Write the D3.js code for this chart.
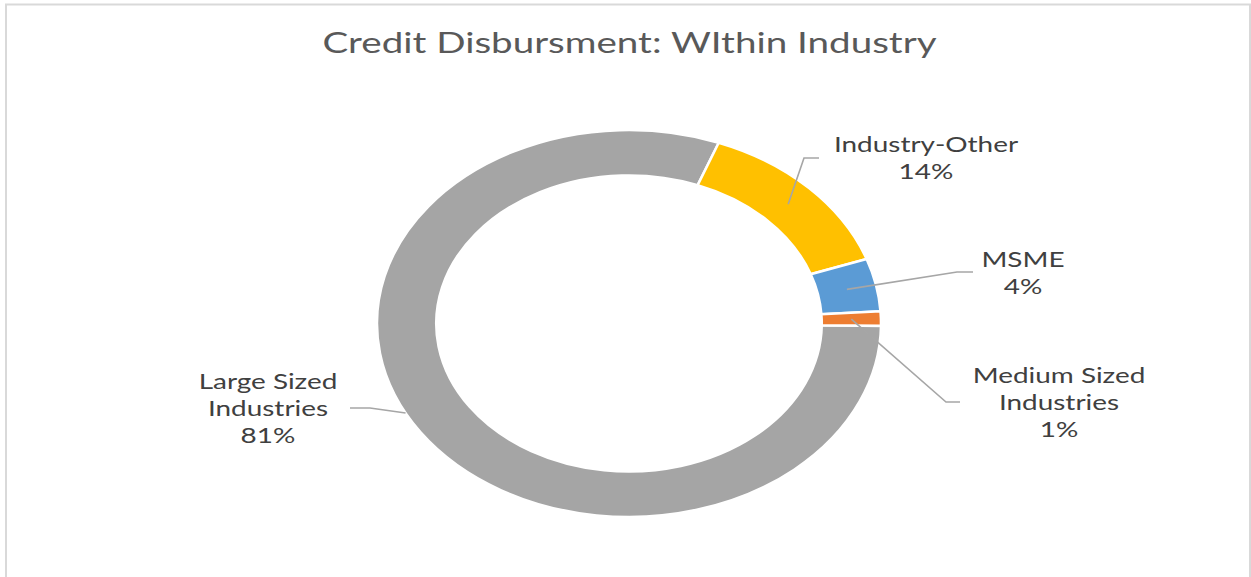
<!DOCTYPE html>
<html lang="en">
<head>
    <meta charset="UTF-8">
    <title>Credit Disbursment</title>
    <script src="https://cdn.jsdelivr.net/npm/d3@7"></script>
    <style>
        body { margin: 0; background: #fff; }
        text { font-family: Lato, "Open Sans", sans-serif; }
    </style>
</head>
<body>
    <script>
        //data
        var categories = ['Large Sized Industries', 'Industry-Other', 'MSME', 'Medium Sized Industries'];
        var values = [80.6, 13.8, 4.4, 1.2];
        var labelLines = [['Large Sized', 'Industries', '81%'], ['Industry-Other', '14%'], ['MSME', '4%'], ['Medium Sized', 'Industries', '1%']];
        var colors = ['#a5a5a5', '#ffc000', '#5b9bd5', '#ed7d31'];

        //size
        var w = 1251;
        var h = 577;
        var cx = 629, cy = 323.5;
        var rx = 252, ry = 193.5;
        var k = ry / rx;
        var outerR = rx, innerR = rx * 0.765;
        var firstAngle = 90.7 * Math.PI / 180;
        //the original picture is stretched sideways, text too
        var sx = 1.33;

        //label layout: text centre, first baseline, leader polyline from label side
        var layout = [
            {x: 268, y: 389, lead: [[350, 408], [370, 408]], end: 'edge'},
            {x: 926, y: 152, lead: [[819, 158], [804, 158]], end: 'mid'},
            {x: 1023, y: 267, lead: [[973, 272], [957, 272]], end: 'mid'},
            {x: 1059, y: 383, lead: [[960, 402], [946, 402]], end: 'mid'}
        ];

        var svg = d3.select('body')
                    .append('svg')
                    .attr('width', w)
                    .attr('height', h);

        //frame
        svg.append('rect')
            .attr('x', 6)
            .attr('y', 4.5)
            .attr('width', 1244)
            .attr('height', 600)
            .attr('fill', 'none')
            .attr('stroke', '#d9d9d9')
            .attr('stroke-width', 2);

        //title
        svg.append('text')
            .attr('transform', 'translate(629.5,53) scale(' + sx + ',1)')
            .attr('text-anchor', 'middle')
            .attr('fill', '#595959')
            .attr('font-size', '29px')
            .text('Credit Disbursment: WIthin Industry');

        var pie = d3.pie()
                    .sort(null)
                    .startAngle(firstAngle)
                    .endAngle(firstAngle + 2 * Math.PI);

        var arcs = pie(values);

        var arc = d3.arc()
                    .innerRadius(innerR)
                    .outerRadius(outerR);

        //donut, squashed to an ellipse
        var g = svg.append('g')
                    .attr('transform', 'translate(' + cx + ',' + cy + ') scale(1,' + k + ')');

        g.selectAll('path')
            .data(arcs)
            .enter()
            .append('path')
            .attr('d', arc)
            .attr('fill', function(d, i) {
                return colors[i];
            })
            .attr('stroke', '#fff')
            .attr('stroke-width', 2.5)
            .attr('vector-effect', 'non-scaling-stroke');

        //point on the ellipse for an angle and radius
        function pt(a, r) {
            return [cx + r * Math.sin(a), cy - k * r * Math.cos(a)];
        }

        //leader lines
        svg.selectAll('polyline')
            .data(arcs)
            .enter()
            .append('polyline')
            .attr('points', function(d, i) {
                var L = layout[i];
                var p;
                if (L.end === 'mid') {
                    p = pt((d.startAngle + d.endAngle) / 2, (innerR + outerR) / 2);
                } else {
                    //meet the outer edge a little below the elbow
                    var yy = L.lead[1][1] + 5;
                    var t = (yy - cy) / ry;
                    var side = Math.sin((d.startAngle + d.endAngle) / 2) < 0 ? -1 : 1;
                    p = [cx + side * rx * Math.sqrt(1 - t * t), yy];
                }
                return L.lead.concat([p]).map(function(q) { return q.join(','); }).join(' ');
            })
            .attr('fill', 'none')
            .attr('stroke', '#a6a6a6')
            .attr('stroke-width', 1.6);

        //labels
        var labels = svg.selectAll('.lbl')
            .data(arcs)
            .enter()
            .append('text')
            .attr('class', 'lbl')
            .attr('text-anchor', 'middle')
            .attr('fill', '#404040')
            .attr('font-size', '21px')
            .attr('transform', function(d, i) {
                return 'translate(' + layout[i].x + ',' + layout[i].y + ') scale(' + sx + ',1)';
            });

        labels.each(function(d, i) {
            var t = d3.select(this);
            labelLines[i].forEach(function(s, j) {
                t.append('tspan')
                    .attr('x', 0)
                    .attr('dy', j === 0 ? 0 : 27)
                    .text(s);
            });
        });
    </script>
</body>
</html>
